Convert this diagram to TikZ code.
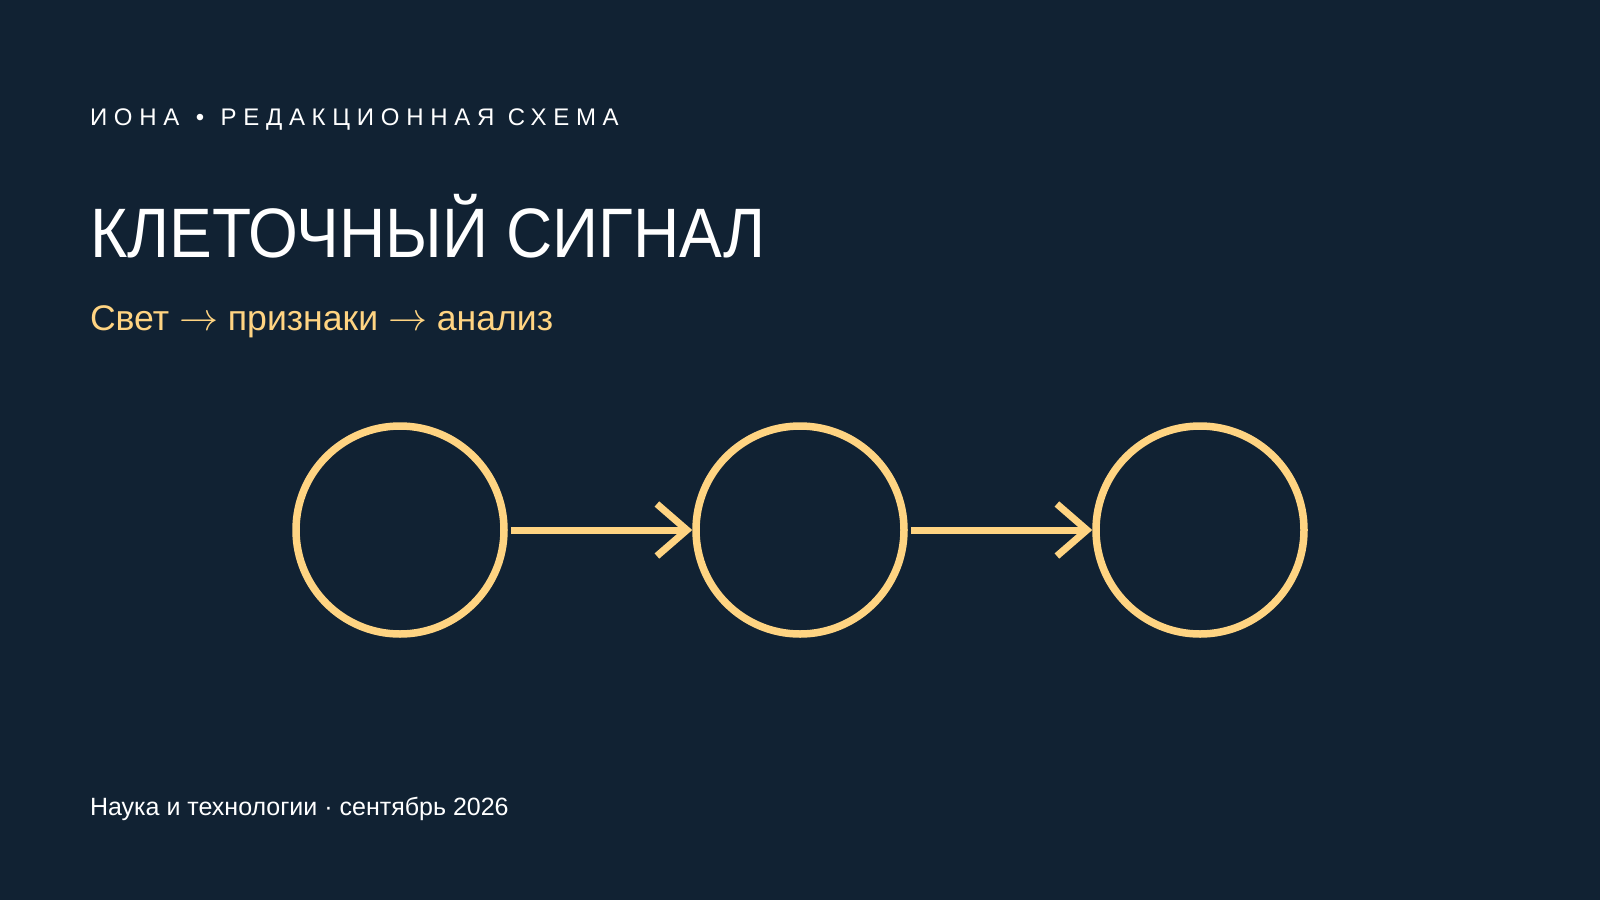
\RequirePackage{fix-cm}
\documentclass[tikz,border=0pt]{standalone}
\usepackage{fontspec}
\setmainfont{Liberation Sans}
\newfontfamily\spacedfont[LetterSpace=28]{Liberation Sans}
\newfontfamily\titlefont[FakeStretch=0.915]{Liberation Sans}
\usetikzlibrary{arrows.meta}
\definecolor{bgnavy}{HTML}{112233}
\definecolor{gold}{HTML}{FFD482}
\tikzset{
  cell/.style={circle, draw=gold, line width=7.5pt, minimum size=208pt, inner sep=0pt},
  conn/.style={draw=gold, line width=7pt, shorten <=3pt,
    -{Straight Barb[length=30pt, width=52pt, line width=7pt]}},
  txt/.style={anchor=base west, inner sep=0pt, outer sep=0pt}
}
\newcommand{\subarrow}{{\fontsize{39}{40}\selectfont$\rightarrow$}}
\begin{document}
\begin{tikzpicture}[x=1pt, y=-1pt]
\fill[bgnavy] (0,0) rectangle (1600,900);
\useasboundingbox (0,0) rectangle (1600,900);
\node[txt, text=white, font=\spacedfont\fontsize{24}{28}\selectfont] (hdr) at (90,125) {ИОНА\hspace{3pt} • \hspace{3pt}РЕДАКЦИОННАЯ СХЕМА};
\node[txt, text=white, font=\titlefont\fontsize{70}{80}\selectfont] (title) at (90,257) {КЛЕТОЧНЫЙ СИГНАЛ};
\node[txt, text=gold, font=\fontsize{35.6}{40}\selectfont] (sub) at (90,330) {Свет \subarrow{} признаки \subarrow{} анализ};
\node[txt, text=white, font=\fontsize{25}{29}\selectfont] (foot) at (90,815) {Наука и технологии · сентябрь 2026};
\node[cell] (c1) at (400,530) {};
\node[cell] (c2) at (800,530) {};
\node[cell] (c3) at (1200,530) {};
\draw[conn] (c1.east) -- (c2.west);
\draw[conn] (c2.east) -- (c3.west);
\end{tikzpicture}
\end{document}
